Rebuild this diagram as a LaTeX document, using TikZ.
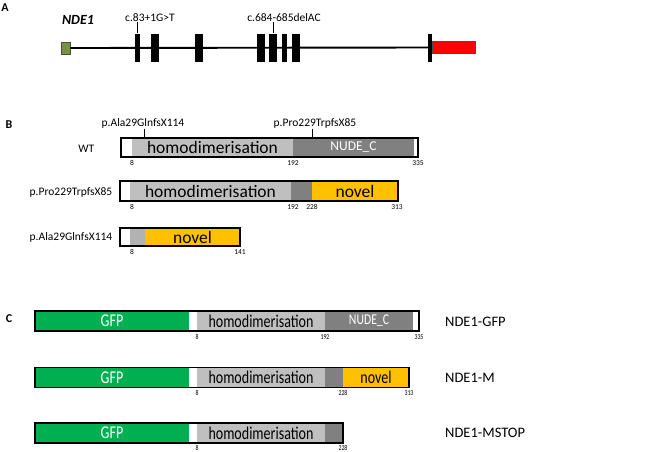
\documentclass[tikz,border=0pt]{standalone}
\usepackage{fontspec}
\setmainfont{Carlito}
\usepackage{graphicx}
\definecolor{gfpgreen}{HTML}{00B050}
\definecolor{novelyellow}{HTML}{FFC000}
\definecolor{homogray}{HTML}{BFBFBF}
\definecolor{nudegray}{HTML}{808080}
\definecolor{utrgreen}{HTML}{77933C}
\newcommand{\cond}[1]{\scalebox{0.78}[1]{#1}}
\tikzset{
  bar/.style={draw=black, line width=1.3pt},
  exon/.style={fill=black, inner sep=0pt, minimum height=28pt},
  num/.style={font=\fontsize{7.5}{7.5}\selectfont, inner sep=0pt, anchor=north},
  lab/.style={font=\fontsize{11.5}{12}\selectfont, inner sep=0.5pt},
  dom/.style={font=\fontsize{17.5}{18}\selectfont, inner sep=0pt},
  domC/.style={font=\fontsize{18}{18}\selectfont, inner sep=0pt},
  construct/.style={font=\fontsize{14.5}{15}\selectfont, anchor=west, inner sep=0pt},
  panel/.style={font=\bfseries\fontsize{12}{12}\selectfont, inner sep=0pt},
}
\begin{document}
\begin{tikzpicture}[x=1pt,y=-1pt]
        \useasboundingbox (0,0) rectangle (655,451);
        % A
        \node[panel] (pa) at (5,8) {A};
        \node[font=\bfseries\itshape\fontsize{14}{14}\selectfont] (gene) at (78,20) {NDE1};
        \node[draw=black!70, fill=utrgreen, line width=0.6pt, inner sep=0pt,
          minimum width=9pt, minimum height=12pt] (utr5) at (65.5,48) {};
        \node[exon, minimum width=4pt] (stop) at (430,47.5) {};
        \draw[line width=1.9pt] (utr5.east) -- (stop.west);
        \node[draw=black!70, fill=red, line width=0.6pt, inner sep=0pt,
          minimum width=43pt, minimum height=12pt, anchor=west] (utr3) at (stop.east) {};
        \node[exon, minimum width=5pt] (ex1) at (137.5,47.5) {};
        \node[exon, minimum width=8pt] (ex2) at (155,47.5) {};
        \node[exon, minimum width=8pt] (ex3) at (199,47.5) {};
        \node[exon, minimum width=8pt] (ex4) at (261,47.5) {};
        \node[exon, minimum width=8pt] (ex5) at (273,47.5) {};
        \node[exon, minimum width=5pt] (ex6) at (284.5,47.5) {};
        \node[exon, minimum width=8pt] (ex7) at (296,47.5) {};
        \node[lab, anchor=south] (mutA) at (150,22) {c.83+1G>T};
        \node[lab, anchor=south] (mutB) at (284,22) {c.684-685delAC};
        \draw[line width=0.8pt] (ex1.north) -- (ex1.north |- mutA.south);
        \draw[line width=0.8pt] (ex5.north) -- (ex5.north |- mutB.south);
        % B
        \node[panel] (pb) at (9,125) {B};
        % WT
        \fill[white] (121,138) rectangle (418,157);
        \fill[homogray] (132,138) rectangle (293,157);
        \fill[nudegray] (293,138) rectangle (414,157);
        \draw[bar] (121,138) rectangle (418,157);
        \node[dom] (wthomo) at (212.5,147.5) {homodimerisation};
        \node[font=\fontsize{13.5}{14}\selectfont, text=white, inner sep=0pt] (wtnude) at (353.5,147.5) {NUDE\_C};
        \node[lab, anchor=east] (wt) at (95,149) {WT};
        \node[num] at (132,160) {8};
        \node[num] at (293,160) {192};
        \node[num] at (418,160) {335};
        \coordinate (cutA) at (144,138);
        \coordinate (cutB) at (312,138);
        \node[lab, anchor=south] (ala) at (143,129) {p.Ala29GlnfsX114};
        \node[lab, anchor=south] (pro) at (315,129) {p.Pro229TrpfsX85};
        \draw[line width=0.8pt] (cutA |- ala.south) -- (cutA);
        \draw[line width=0.8pt] (cutB |- pro.south) -- (cutB);
        % p.Pro229TrpfsX85
        \fill[white] (120,181) rectangle (398,201);
        \fill[homogray] (130,181) rectangle (291,201);
        \fill[nudegray] (291,181) rectangle (312,201);
        \fill[novelyellow] (312,181) rectangle (398,201);
        \draw[bar] (120,181) rectangle (398,201);
        \node[dom] (prohomo) at (210.5,191) {homodimerisation};
        \node[dom] (pronovel) at (355,191) {novel};
        \node[lab, anchor=east] (prolab) at (113,192) {p.Pro229TrpfsX85};
        \node[num] at (132,204) {8};
        \node[num] at (293,204) {192};
        \node[num] at (312,204) {228};
        \node[num] at (397,204) {313};
        % p.Ala29GlnfsX114
        \fill[white] (120,228) rectangle (240,246);
        \fill[homogray!80!nudegray] (130,228) rectangle (145,246);
        \fill[novelyellow] (145,228) rectangle (240,246);
        \draw[bar] (120,228) rectangle (240,246);
        \node[dom] (alanovel) at (192.5,237) {novel};
        \node[lab, anchor=east] (alalab) at (113,237) {p.Ala29GlnfsX114};
        \node[num] at (132,249.5) {8};
        \node[num] at (240,249.5) {141};
        % C
        \node[panel] (pc) at (9,319) {C};
        % NDE1-GFP
        \fill[gfpgreen] (35,311) rectangle (189,331);
        \fill[white] (189,311) rectangle (197,331);
        \fill[homogray] (197,311) rectangle (325,331);
        \fill[nudegray] (325,311) rectangle (413,331);
        \fill[white] (413,311) rectangle (419,331);
        \draw[bar] (35,311) rectangle (419,331);
        \node[domC, text=white] (gfp1) at (112,321) {\cond{GFP}};
        \node[domC] (homo1) at (261,321) {\cond{homodimerisation}};
        \node[font=\fontsize{15}{15}\selectfont, text=white, inner sep=0pt] (nude1) at (369,321) {\cond{NUDE\_C}};
        \node[num] at (197,334) {\cond{8}};
        \node[num] at (325,334) {\cond{192}};
        \node[num] at (419,334) {\cond{335}};
        \node[construct] (gfplab) at (445,322) {NDE1-GFP};
        % NDE1-M
        \fill[gfpgreen] (35,367.5) rectangle (189,387.5);
        \fill[white] (189,367.5) rectangle (197,387.5);
        \fill[homogray] (197,367.5) rectangle (325,387.5);
        \fill[nudegray] (325,367.5) rectangle (343,387.5);
        \fill[novelyellow] (343,367.5) rectangle (409,387.5);
        \draw[bar] (35,367.5) rectangle (409,387.5);
        \node[domC, text=white] (gfp2) at (112,377.5) {\cond{GFP}};
        \node[domC] (homo2) at (261,377.5) {\cond{homodimerisation}};
        \node[domC] (novel2) at (376,377.5) {\cond{novel}};
        \node[num] at (197,390.5) {\cond{8}};
        \node[num] at (343,390.5) {\cond{228}};
        \node[num] at (409,390.5) {\cond{313}};
        \node[construct] (mlab) at (445,378) {NDE1-M};
        % NDE1-MSTOP
        \fill[gfpgreen] (35,423) rectangle (189,443);
        \fill[white] (189,423) rectangle (197,443);
        \fill[homogray] (197,423) rectangle (325,443);
        \fill[nudegray] (325,423) rectangle (343,443);
        \draw[bar] (35,423) rectangle (343,443);
        \node[domC, text=white] (gfp3) at (112,433) {\cond{GFP}};
        \node[domC] (homo3) at (261,433) {\cond{homodimerisation}};
        \node[num] at (197,445) {\cond{8}};
        \node[num] at (343,445) {\cond{228}};
        \node[construct] (stoplab) at (445,433) {NDE1-MSTOP};
      \end{tikzpicture}
\end{document}
